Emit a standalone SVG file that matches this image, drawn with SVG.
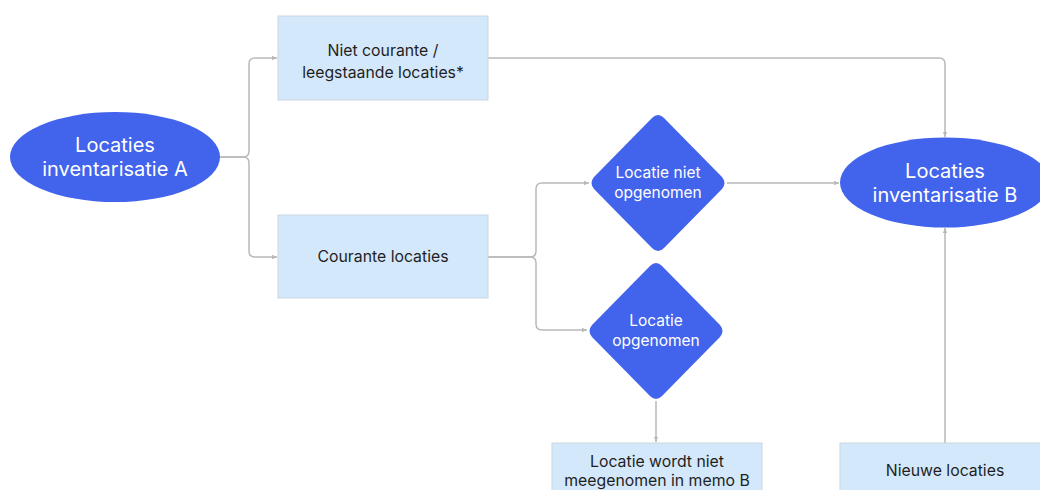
<svg xmlns="http://www.w3.org/2000/svg" width="1040" height="490" viewBox="0 0 1040 490">
<defs>
<style>
.box{fill:#d4e8fb;stroke:#c9d6e2;stroke-width:1}
.blue{fill:#4263eb}
.wt{fill:#ffffff;font-family:Inter,"Noto Sans",sans-serif;text-anchor:middle}
.dt{fill:#1f1f1f;font-family:Inter,"Noto Sans",sans-serif;font-size:15.8px;text-anchor:middle}
.conn{fill:none;stroke:#b9b9b9;stroke-width:1.5}
</style>
<marker id="ah" viewBox="0 0 8 8" refX="7" refY="4" markerWidth="6" markerHeight="6" orient="auto" markerUnits="userSpaceOnUse">
<path d="M0,1 L7,4 L0,7 Z" fill="#b9b9b9"/>
</marker>
</defs>
<rect width="1040" height="490" fill="#ffffff"/>
<g id="connectors">
<path class="conn" d="M220,157 H243 Q249,157 249,151 V64 Q249,58 255,58 H277" marker-end="url(#ah)"/>
<path class="conn" d="M220,157 H243 Q249,157 249,163 V251 Q249,257 255,257 H277" marker-end="url(#ah)"/>
<path class="conn" d="M488,58 H939 Q945,58 945,64 V137" marker-end="url(#ah)"/>
<path class="conn" d="M488,257 H530 Q536,257 536,251 V189 Q536,183 542,183 H589" marker-end="url(#ah)"/>
<path class="conn" d="M488,257 H530 Q536,257 536,263 V324 Q536,330 542,330 H587" marker-end="url(#ah)"/>
<path class="conn" d="M727,183 H839" marker-end="url(#ah)"/>
<path class="conn" d="M656,401 V442" marker-end="url(#ah)"/>
<path class="conn" d="M945,443 V228" marker-end="url(#ah)"/>
</g>
<g id="node-a">
<ellipse class="blue" cx="115" cy="157" rx="105" ry="45"/>
<text class="wt" font-size="20" x="115" y="152">Locaties</text>
<text class="wt" font-size="20" x="115" y="176">inventarisatie A</text>
</g>
<g id="node-niet-courante">
<rect class="box" x="278" y="16" width="210" height="84"/>
<text class="dt" x="383" y="56">Niet courante /</text>
<text class="dt" x="383" y="78">leegstaande locaties*</text>
</g>
<g id="node-courante">
<rect class="box" x="278" y="215" width="210" height="83"/>
<text class="dt" x="383" y="262">Courante locaties</text>
</g>
<g id="node-niet-opgenomen">
<path class="blue" d="M652,118 Q658,112 664,118 L722,177 Q727,183 722,189 L664,248 Q658,254 652,248 L594,189 Q589,183 594,177 Z"/>
<text class="wt" font-size="15.5" x="658" y="178">Locatie niet</text>
<text class="wt" font-size="15.5" x="658" y="198">opgenomen</text>
</g>
<g id="node-opgenomen">
<path class="blue" d="M650,266 Q656,260 662,266 L720,325 Q725,331 720,337 L662,396 Q656,402 650,396 L592,337 Q587,331 592,325 Z"/>
<text class="wt" font-size="15.5" x="656" y="326">Locatie</text>
<text class="wt" font-size="15.5" x="656" y="346">opgenomen</text>
</g>
<g id="node-b">
<ellipse class="blue" cx="945" cy="182.5" rx="105" ry="45"/>
<text class="wt" font-size="20" x="945" y="178">Locaties</text>
<text class="wt" font-size="20" x="945" y="202">inventarisatie B</text>
</g>
<g id="node-niet-memo">
<rect class="box" x="552" y="443" width="210" height="60"/>
<text class="dt" x="657" y="467">Locatie wordt niet</text>
<text class="dt" x="657" y="486">meegenomen in memo B</text>
</g>
<g id="node-nieuwe">
<rect class="box" x="840" y="443" width="210" height="60"/>
<text class="dt" x="945" y="476">Nieuwe locaties</text>
</g>
</svg>
